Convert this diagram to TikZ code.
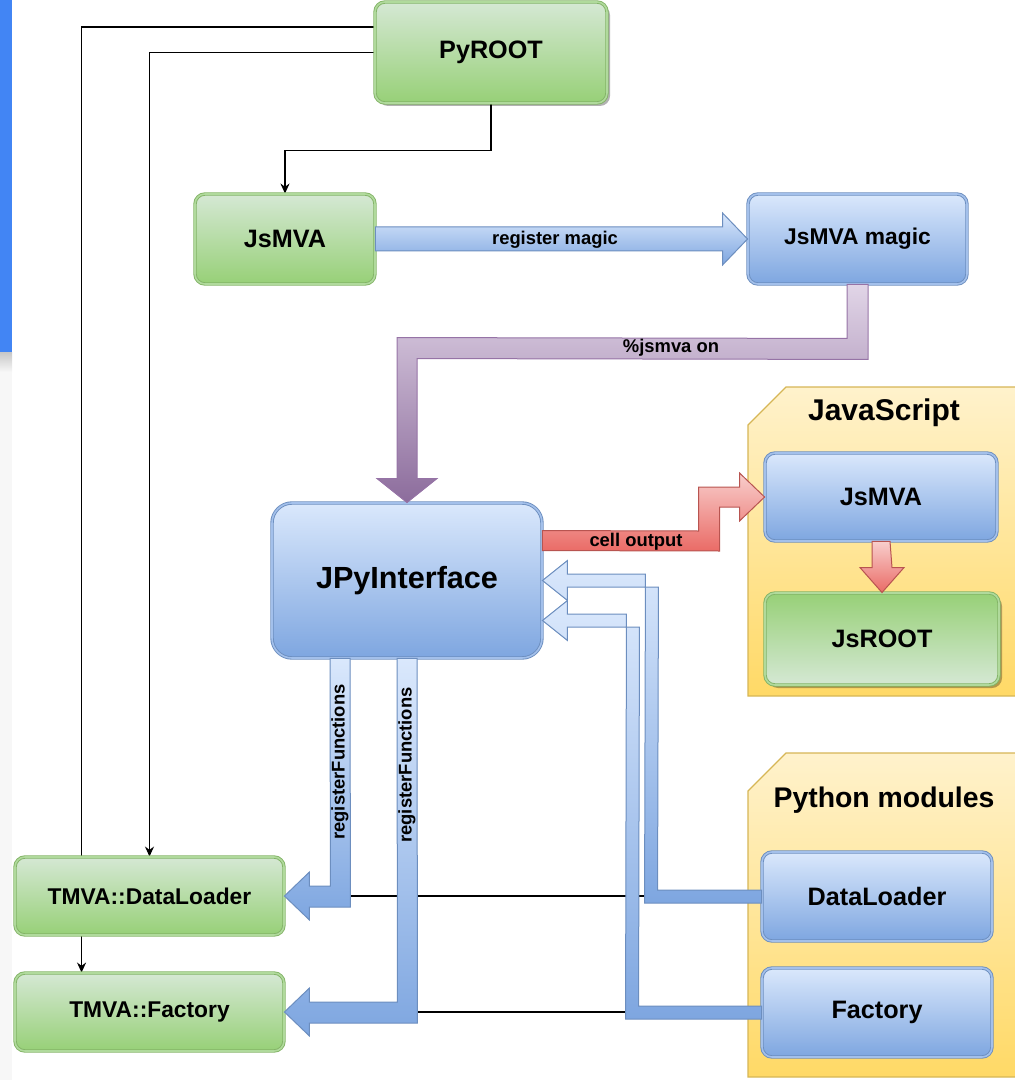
\documentclass[tikz,border=0pt]{standalone}
\usepackage{fontspec}
\setmainfont{Liberation Sans}
\usetikzlibrary{arrows.meta}
\usetikzlibrary{calc}
\usetikzlibrary{shadows}
\usetikzlibrary{backgrounds}
\definecolor{gtop}{HTML}{D5E8D4}
\definecolor{gbot}{HTML}{97D077}
\definecolor{gline}{HTML}{82B366}
\definecolor{btop}{HTML}{DAE8FC}
\definecolor{bbot}{HTML}{7EA6E0}
\definecolor{bline}{HTML}{6C8EBF}
\definecolor{ytop}{HTML}{FFF2CC}
\definecolor{ybot}{HTML}{FFD966}
\definecolor{yline}{HTML}{D6B656}
\definecolor{ptop}{HTML}{E1D5E7}
\definecolor{pbot}{HTML}{8C6C9C}
\definecolor{pline}{HTML}{9673A6}
\definecolor{rtop}{HTML}{F8CECC}
\definecolor{rbot}{HTML}{EA6B66}
\definecolor{rline}{HTML}{B85450}
\definecolor{stripblue}{HTML}{4285F4}
\tikzset{
  box/.style = {rounded corners=5pt, draw, line width=0.45pt, double distance=0.8pt,
    inner sep=0, font=\bfseries\fontsize{12.6}{15}\selectfont},
  greenbox/.style = {box, draw=gline, double=gtop!40!gbot, top color=gtop, bottom color=gbot},
  greenflip/.style = {box, draw=gline, double=gtop!40!gbot, top color=gbot, bottom color=gtop},
  bluebox/.style = {box, draw=bline, double=btop!40!bbot, top color=btop, bottom color=bbot},
  boxshadow/.style = {drop shadow={shadow xshift=1.5pt, shadow yshift=-1.5pt, opacity=0.3, fill=black}},
  group/.style = {draw=yline, line width=0.6pt, top color=ytop, bottom color=ybot},
  grouptitle/.style = {inner sep=0, font=\bfseries\fontsize{15}{18}\selectfont},
  link/.style = {draw=black, line width=0.6pt, -{Stealth[length=5pt, width=4.5pt]}},
  plain/.style = {draw=black, line width=0.6pt},
  fatblue/.style = {draw=bline, line width=0.5pt, top color=btop, bottom color=bbot},
  fatpurple/.style = {draw=pline, line width=0.5pt, top color=ptop, bottom color=pbot},
  fatred/.style = {draw=rline, line width=0.5pt, top color=rtop, bottom color=rbot},
  lbl/.style = {inner sep=0, font=\bfseries\fontsize{9.2}{11}\selectfont}
}

\begin{document}
\begin{tikzpicture}[x=0.5pt, y=-0.5pt]
  \useasboundingbox (0,0) rectangle (1015,1080);

  % boxes
  \node [greenbox, boxshadow, minimum width=116pt, minimum height=50.5pt] (pyroot) at (491,52.5) {PyROOT};
  \node [greenbox, minimum width=90pt, minimum height=45pt] (jsmva) at (285,239) {JsMVA};
  \node [bluebox, minimum width=109.5pt, minimum height=45pt, font=\bfseries\fontsize{11.4}{14}\selectfont] (magic) at (857.5,239) {JsMVA magic};
  \node [bluebox, minimum width=135pt, minimum height=77.5pt, rounded corners=10pt, font=\bfseries\fontsize{15.3}{18}\selectfont] (jpy) at (407,580.5) {JPyInterface};
  \node [bluebox, minimum width=116pt, minimum height=44pt] (jsjs) at (881,497) {JsMVA};
  \node [greenflip, boxshadow, minimum width=117pt, minimum height=46pt] (jsroot) at (882,639) {JsROOT};
  \node [bluebox, minimum width=115pt, minimum height=44.5pt] (dl) at (877,896.5) {DataLoader};
  \node [bluebox, minimum width=115pt, minimum height=44.5pt] (fac) at (877,1012.5) {Factory};
  \node [greenbox, minimum width=134.5pt, minimum height=39pt, font=\bfseries\fontsize{11.4}{14}\selectfont] (tdl) at (149.5,896) {TMVA::DataLoader};
  \node [greenbox, minimum width=134.5pt, minimum height=39pt, font=\bfseries\fontsize{11.4}{14}\selectfont] (tfac) at (149.5,1012) {TMVA::Factory};

  \begin{scope}[on background layer]
    \fill [stripblue] (0,0) rectangle (12,352);
    \shade [top color=black!22, bottom color=black!3] (0,352) rectangle (12,372);
    \fill [black!3] (0,372) rectangle (12,1080);

    \path [group] (786,387) -- (1030,387) -- (1030,696) -- (748,696) -- (748,425) -- cycle;
    \node [grouptitle] (jstitle) at (884,413) {JavaScript};
    \path [group] (786,753) -- (1030,753) -- (1030,1077) -- (748,1077) -- (748,791) -- cycle;
    \node [grouptitle, font=\bfseries\fontsize{14.2}{17}\selectfont] (pytitle) at (884,800) {Python modules};

    \draw [link] ($(pyroot.west)+(0,-25.5)$) -| ($(tfac.north west)+(67,0)$);
    \draw [link] (pyroot.west) -| (tdl.north);
    \draw [link] (pyroot.south) -- ++(0,47) -| (jsmva.north);
    \draw [plain] (tdl.east) -- (tdl.east -| dl.west);
    \draw [plain] (tfac.east) -- (tfac.east -| fac.west);
  \end{scope}

  % register magic
  \path [fatblue] ($(jsmva.east)+(0,-12)$) -- ($(magic.west)+(-25,-12)$) -- ++(0,-14)
    -- (magic.west) -- ($(magic.west)+(-25,26)$) -- ++(0,-14) -- ($(jsmva.east)+(0,12)$) -- cycle;
  \node [lbl] (lmagic) at (555,240) {register magic};

  % %jsmva on
  \path [fatpurple] ($(magic.south)+(10.5,0)$) -- ($(magic.south)+(10.5,75)$)
    -- ($(jpy.north)+(10,-144)$) -- ($(jpy.north)+(10,-24)$) -- ($(jpy.north)+(30,-24)$)
    -- (jpy.north) -- ($(jpy.north)+(-30,-24)$) -- ($(jpy.north)+(-10,-24)$)
    -- ($(jpy.north)+(-10,-165)$) -- ($(magic.south)+(-10.5,54)$) -- ($(magic.south)+(-10.5,0)$) -- cycle;
  \node [lbl] (ljsmva) at (671,348) {\%jsmva on};

  % cell output
  \path [fatred] ($(jpy.north east)+(0,28)$) -- ($(jsjs.west)+(-66,34)$) -- ($(jsjs.west)+(-66,-10)$)
    -- ($(jsjs.west)+(-25,-10)$) -- ($(jsjs.west)+(-25,-24)$) -- (jsjs.west)
    -- ($(jsjs.west)+(-25,24)$) -- ($(jsjs.west)+(-25,10)$) -- ($(jsjs.west)+(-45,10)$)
    -- ($(jsjs.west)+(-45,54)$) -- ($(jpy.north east)+(0,48)$) -- cycle;
  \node [lbl] (lcell) at (636,542) {cell output};

  % JsMVA to JsROOT
  \path [fatred] ($(jsjs.south)+(-9,0)$) -- ($(jsroot.north)+(-10,-25)$) -- ++(-12,0)
    -- (jsroot.north) -- ($(jsroot.north)+(22,-25)$) -- ++(-12,0) -- ($(jsjs.south)+(9,0)$) -- cycle;

  % registerFunctions
  \path [fatblue] ($(jpy.south)+(-77,0)$) -- ($(jpy.south)+(-57,0)$) -- ($(tdl.east)+(66,11)$)
    -- ($(tdl.east)+(25,11)$) -- ($(tdl.east)+(25,24)$) -- (tdl.east) -- ($(tdl.east)+(25,-24)$)
    -- ($(tdl.east)+(25,-10)$) -- ($(tdl.east)+(46,-10)$) -- cycle;
  \node [lbl, rotate=90] (lreg1) at (340,762) {registerFunctions};
  \path [fatblue] ($(jpy.south)+(-10,0)$) -- ($(jpy.south)+(10,0)$) -- ($(tfac.east)+(133,11)$)
    -- ($(tfac.east)+(25,11)$) -- ($(tfac.east)+(25,24)$) -- (tfac.east) -- ($(tfac.east)+(25,-24)$)
    -- ($(tfac.east)+(25,-10)$) -- ($(tfac.east)+(113,-10)$) -- cycle;
  \node [lbl, rotate=90] (lreg2) at (407,765) {registerFunctions};

  % python modules back to JPyInterface
  \path [fatblue] ($(dl.west)+(0,-6.5)$) -- ($(dl.west)+(-104,-6.5)$) -- ($(jpy.east)+(116,6.5)$)
    -- ($(jpy.east)+(25,6.5)$) -- ($(jpy.east)+(25,20)$) -- (jpy.east) -- ($(jpy.east)+(25,-20)$)
    -- ($(jpy.east)+(25,-6.5)$) -- ($(jpy.east)+(103,-6.5)$) -- ($(dl.west)+(-117,6.5)$)
    -- ($(dl.west)+(0,6.5)$) -- cycle;
  \coordinate (facin) at ($(jpy.east)+(0,40)$);
  \path [fatblue] ($(fac.west)+(0,-6.5)$) -- ($(fac.west)+(-123,-6.5)$) -- ($(facin)+(97,6.5)$)
    -- ($(facin)+(25,6.5)$) -- ($(facin)+(25,20)$) -- (facin) -- ($(facin)+(25,-20)$)
    -- ($(facin)+(25,-6.5)$) -- ($(facin)+(84,-6.5)$) -- ($(fac.west)+(-136,6.5)$)
    -- ($(fac.west)+(0,6.5)$) -- cycle;
\end{tikzpicture}
\end{document}
